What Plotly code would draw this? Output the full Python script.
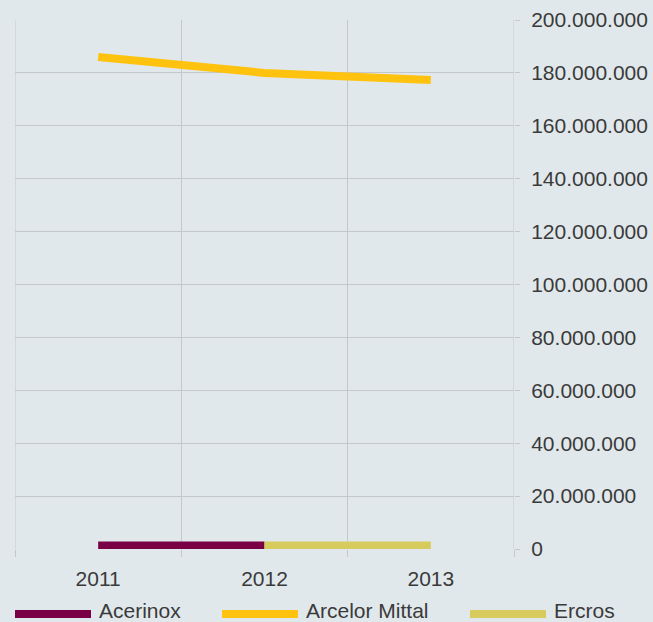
import plotly.graph_objects as go

years = ["2011", "2012", "2013"]
acerinox = [1300000, 1300000, None]
arcelor = [186000000, 180000000, 177300000]
ercros = [None, 1300000, 1300000]

series_names = ["Acerinox", "Arcelor Mittal", "Ercros"]
series_values = [acerinox, arcelor, ercros]
series_colors = ["#7a0046", "#ffc20e", "#d8cb5d"]

y_ticks = list(range(0, 200000001, 20000000))

BG = "#e1e8eb"
GRID = "#c5c8ca"
FONT = "Liberation Sans, Arial, sans-serif"
TXT = "#3a3a3a"
FS = 21

fig = go.Figure()
for name, vals, col in zip(series_names, series_values, series_colors):
    fig.add_trace(go.Scatter(x=years, y=vals, name=name, mode="lines",
                             line=dict(color=col, width=8), connectgaps=False,
                             showlegend=False))

W, H = 653, 622
ml, mr, mt, mb = 15, 139, 20, 73
pw = W - ml - mr
ph = H - mt - mb

def px2x(px):
    return (px - ml) / pw

def py2y(py):
    return (H - mb - py) / ph

shapes = []
# edge gridlines of the category axis
for xb in [-0.5, 2.5]:
    shapes.append(dict(type="line", xref="x", yref="paper", x0=xb, x1=xb, y0=0, y1=1,
                       line=dict(color=GRID, width=1), layer="below"))

# manual legend
leg_x = [15, 222, 470]
sw_y = 614
txt_y = 610
annotations = []
for x0, name, col in zip(leg_x, series_names, series_colors):
    shapes.append(dict(type="line", xref="paper", yref="paper",
                       x0=px2x(x0), x1=px2x(x0 + 76), y0=py2y(sw_y), y1=py2y(sw_y),
                       line=dict(color=col, width=8)))
    annotations.append(dict(xref="paper", yref="paper", x=px2x(x0 + 82), y=py2y(txt_y),
                            text=name, showarrow=False, xanchor="left", yanchor="middle",
                            font=dict(family=FONT, size=FS, color=TXT)))

fig.update_layout(
    width=W, height=H,
    margin=dict(l=ml, r=mr, t=mt, b=mb, autoexpand=False),
    paper_bgcolor=BG, plot_bgcolor=BG,
    separators=",.",
    font=dict(family=FONT, size=FS, color=TXT),
    shapes=shapes,
    annotations=annotations,
    xaxis=dict(type="category", range=[-0.5, 2.5], tickson="boundaries",
               showgrid=True, gridcolor=GRID, gridwidth=1,
               ticks="outside", ticklen=7, tickcolor=GRID,
               ticklabelstandoff=15, automargin=False,
               showline=False, zeroline=False,
               tickfont=dict(family=FONT, size=FS, color=TXT)),
    yaxis=dict(side="right", range=[0, 200000000], tickvals=y_ticks,
               tickformat=",d", showgrid=True, gridcolor=GRID, gridwidth=1,
               ticks="outside", ticklen=5, tickcolor=GRID,
               ticklabelstandoff=7, automargin=False,
               zeroline=False, showline=False,
               tickfont=dict(family=FONT, size=FS, color=TXT)),
)

fig.write_html("out.html", config={"displayModeBar": False},
               post_script="document.body.style.margin='0';document.body.style.overflow='hidden';")
